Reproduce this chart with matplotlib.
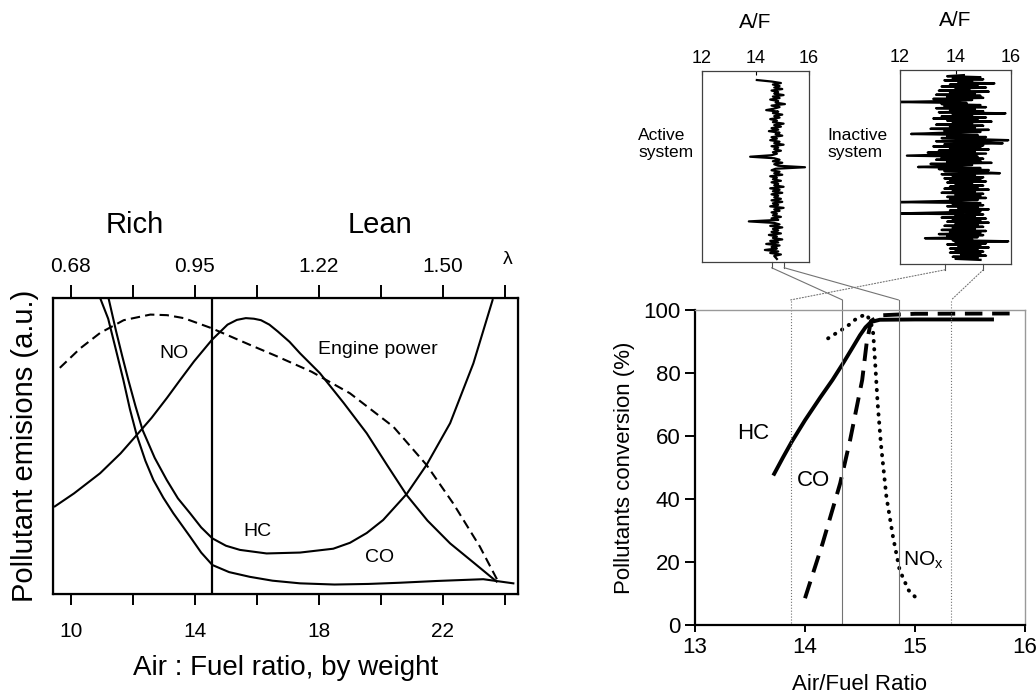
import matplotlib
matplotlib.use("Agg")
import matplotlib.pyplot as plt
from matplotlib.patches import ConnectionPatch

plt.rcParams['font.family'] = ['Liberation Sans', 'DejaVu Sans']

# ---- left panel: emissions vs air/fuel ratio ----
co_x = [10.94, 11.2, 11.45, 11.69, 11.9, 12.12, 12.4, 12.66, 12.98, 13.30, 13.84, 14.2, 14.56, 15.1, 15.77, 16.5, 17.39, 18.5, 19.6, 20.6, 21.8, 23.3, 24.27]
co_y = [100, 93, 82.5, 72.3, 62.5, 53.7, 45.0, 38.5, 32.5, 27.3, 19.4, 14.0, 9.8, 7.4, 5.8, 4.5, 3.6, 3.2, 3.4, 3.8, 4.4, 5.0, 3.6]
hc_x = [11.21, 11.45, 11.65, 11.85, 12.08, 12.31, 12.7, 13.09, 13.45, 13.84, 14.2, 14.56, 15.0, 15.45, 16.31, 17.39, 18.46, 19.0, 19.54, 20.07, 20.83, 21.47, 22.23, 22.98, 23.6]
hc_y = [100, 89, 80.5, 72.3, 63.5, 55.4, 46.0, 38.5, 32.3, 27.3, 22.5, 18.8, 16.3, 14.9, 13.7, 14.0, 15.3, 17.3, 20.6, 25.0, 33.8, 43.6, 57.7, 77.9, 99.3]
no_x = [9.48, 10.1, 10.94, 11.6, 12.12, 12.6, 13.10, 13.52, 13.97, 14.55, 15.05, 15.35, 15.64, 15.9, 16.13, 16.4, 16.67, 17.05, 17.39, 18.03, 18.8, 19.54, 20.2, 20.83, 21.5, 22.23, 23.0, 23.73]
no_y = [29.6, 34.0, 40.8, 47.5, 53.7, 59.5, 66.3, 72.3, 78.6, 85.9, 91.0, 92.6, 93.2, 93.0, 92.5, 91.0, 88.7, 85.2, 81.3, 74.6, 64.5, 54.3, 43.5, 33.4, 24.8, 17.1, 10.5, 4.2]
pw_x = [9.64, 10.3, 10.94, 11.7, 12.56, 13.1, 13.64, 14.51, 15.81, 16.6, 17.76, 19.0, 20.4, 21.47, 22.33, 23.19, 23.78]
pw_y = [76.4, 83.0, 88.2, 92.5, 94.4, 94.2, 93.2, 89.9, 84.0, 80.5, 75.1, 67.8, 56.5, 43.6, 30.6, 16.0, 4.2]
af_ticks = [10, 14, 18, 22]
lambda_labels = ['0.68', '0.95', '1.22', '1.50']
stoich = 14.55

# ---- right panel: conversion efficiency ----
hc_conv_x = [13.72, 13.80, 13.88, 14.0, 14.14, 14.25, 14.35, 14.44, 14.5, 14.55, 14.6, 14.68, 15.0, 15.7]
hc_conv_y = [48.0, 53.2, 58.2, 65.0, 72.3, 77.8, 83.3, 88.5, 92.0, 94.5, 96.2, 96.9, 97.0, 97.0]
co_conv_x = [14.0, 14.16, 14.32, 14.41, 14.52, 14.56, 14.6, 14.68, 15.0, 15.9]
co_conv_y = [8.5, 25.9, 45.0, 58.7, 77.8, 89.4, 96.5, 98.3, 98.8, 98.9]
nox_conv_x = [14.21, 14.3, 14.38, 14.45, 14.5, 14.56, 14.6, 14.62, 14.64, 14.66, 14.69, 14.74, 14.8, 14.86, 14.94, 15.03]
nox_conv_y = [91.0, 93.0, 94.7, 96.8, 97.9, 98.6, 96.0, 92.6, 82.0, 70.5, 57.5, 40.7, 28.0, 17.5, 11.1, 7.9]
window_lines = [13.87, 14.34, 14.85, 15.33]

# ---- A/F traces ----
active_af = [14.05, 14.6, 14.95, 14.65, 14.9, 14.7, 15.0, 14.6, 14.85, 14.7,
             15.05, 14.65, 14.9, 14.55, 14.85, 14.75, 15.1, 14.6, 14.9, 14.7,
             14.4, 14.85, 14.65, 15.0, 14.7, 14.9, 14.55, 14.8, 14.65, 15.05,
             14.7, 14.95, 14.6, 14.85, 14.5, 14.9, 14.75, 15.0, 14.6, 14.8,
             14.55, 14.9, 14.7, 15.05, 14.6, 14.85, 14.7, 14.95, 14.65, 14.8,
             14.6, 13.8, 14.7, 14.9, 14.65, 15.0, 14.7, 14.85, 15.85, 14.75,
             14.6, 14.9, 14.7, 15.0, 14.55, 14.8, 14.65, 14.95, 14.6, 14.85,
             14.7, 15.05, 14.55, 14.9, 14.65, 15.0, 14.6, 14.85, 14.7, 14.95,
             14.6, 15.0, 14.65, 14.85, 14.55, 15.05, 14.7, 14.9, 14.6, 14.8,
             14.65, 14.95, 14.6, 14.85, 13.75, 14.7, 14.9, 14.55, 15.0, 14.65,
             14.85, 14.6, 14.95, 14.5, 14.8, 14.65, 15.0, 14.55, 14.85, 14.4,
             14.9, 14.6, 14.8, 14.35, 14.85, 14.55, 14.95, 14.7, 14.75, 14.8]
inactive_af = [14.3, 13.7, 14.9, 13.9, 15.0, 13.6, 14.6, 14.1, 15.4, 13.8,
               14.8, 13.5, 15.1, 14.0, 14.5, 13.4, 15.2, 13.8, 14.7, 13.3,
               14.9, 13.7, 15.0, 13.2, 14.6, 13.9, 12.0, 14.4, 13.5, 14.9,
               13.6, 15.1, 13.3, 14.7, 13.8, 15.0, 13.4, 15.8, 13.9, 14.6,
               13.5, 15.1, 13.2, 14.8, 13.7, 15.3, 13.9, 14.6, 13.3, 15.0,
               13.8, 14.7, 13.1, 15.2, 13.6, 14.9, 13.4, 12.4, 14.8, 13.7,
               15.1, 13.5, 14.6, 15.9, 13.3, 14.8, 15.7, 13.6, 15.0, 13.2,
               14.9, 13.8, 15.2, 13.4, 14.7, 13.0, 15.1, 13.6, 12.25, 14.8,
               13.5, 15.0, 13.3, 14.9, 13.7, 15.3, 13.1, 14.6, 13.8, 12.65,
               14.9, 13.4, 15.2, 13.6, 14.8, 15.6, 13.5, 14.7, 13.9, 15.0,
               13.6, 14.9, 13.8, 15.1, 13.7, 14.6, 14.0, 15.0, 13.8, 14.8,
               13.6, 15.2, 13.9, 14.7, 13.5, 15.0, 14.0, 14.9, 13.7, 15.1,
               13.8, 14.8, 13.6, 12.0, 14.9, 13.9, 15.0, 13.7, 14.8, 14.1,
               15.2, 13.8, 14.9, 13.6, 12.0, 15.0, 14.0, 14.7, 13.5, 15.1,
               13.9, 14.9, 13.7, 15.2, 14.0, 14.8, 13.6, 15.0, 13.9, 14.7,
               13.5, 15.1, 13.8, 14.9, 13.4, 15.0, 13.7, 14.8, 12.9, 14.6,
               13.9, 15.9, 14.0, 15.1, 13.7, 14.9, 14.1, 15.2, 13.8, 14.8,
               14.0, 15.0, 13.8, 14.9, 14.2, 15.1, 13.9, 14.8, 14.0, 14.9]
active_range = [14.6, 15.07]
inactive_range = [13.62, 15.0]

W, H = 1036, 697
fig = plt.figure(figsize=(W / 100, H / 100), dpi=100)


def px_axes(l, t, r, b):
    return fig.add_axes([l / W, 1 - b / H, (r - l) / W, (b - t) / H])


# ================= left panel =================
ax = px_axes(53, 298, 518, 594)
lw = 1.5
ax.plot(no_x, no_y, color='black', lw=lw, solid_joinstyle='round')
ax.plot(hc_x, hc_y, color='black', lw=lw, solid_joinstyle='round')
ax.plot(co_x, co_y, color='black', lw=lw, solid_joinstyle='round')
ax.plot(pw_x, pw_y, color='black', lw=lw, linestyle=(0, (4.5, 2.5)))
ax.axvline(stoich, color='black', lw=1.6)
ax.set_xlim(9.42, 24.42)
ax.set_ylim(0, 100)
ax.set_yticks([])
ax.set_xticks(af_ticks)
ax.set_xticks([12, 16, 20, 24], minor=True)
ax.tick_params(axis='x', which='both', direction='out', length=8, width=1.4,
               labelsize=15, pad=12)
for s in ax.spines.values():
    s.set_linewidth(1.6)
ax.set_xlabel('Air : Fuel ratio, by weight', fontsize=20, labelpad=10)
ax.set_ylabel('Pollutant emisions (a.u.)', fontsize=21, labelpad=10)

top = ax.twiny()
top.set_xlim(ax.get_xlim())
top.set_xticks(af_ticks)
top.set_xticklabels(lambda_labels)
top.set_xticks([12, 16, 20, 24], minor=True)
top.tick_params(axis='x', which='both', direction='out', length=9.5, width=1.4,
                labelsize=15, pad=6)
top.text(24.1, 1.13, 'λ', transform=top.get_xaxis_transform(), fontsize=14,
         ha='center', va='center')
top.text(12.06, 1.247, 'Rich', transform=top.get_xaxis_transform(), fontsize=21,
         ha='center', va='center')
top.text(19.97, 1.247, 'Lean', transform=top.get_xaxis_transform(), fontsize=21,
         ha='center', va='center')

ax.text(13.32, 81.4, 'NO', fontsize=14, ha='center', va='center')
ax.text(19.9, 82.5, 'Engine power', fontsize=14, ha='center', va='center')
ax.text(16.02, 21.2, 'HC', fontsize=14, ha='center', va='center')
ax.text(19.97, 12.2, 'CO', fontsize=14, ha='center', va='center')

# ================= right panel =================
ar = px_axes(695, 310, 1025, 625)
ar.plot(hc_conv_x, hc_conv_y, color='black', lw=2.8, solid_joinstyle='round')
ar.plot(co_conv_x, co_conv_y, color='black', lw=2.8, linestyle=(0, (4.5, 2.5)))
ar.plot(nox_conv_x, nox_conv_y, color='black', lw=2.8, linestyle=(0, (0.1, 2.0)),
        dash_capstyle='round')
for i, xv in enumerate(window_lines):
    ls = ':' if i in (0, 3) else '-'
    ar.plot([xv, xv], [0.5, 103.2], color='0.45', lw=0.8, linestyle=ls, clip_on=False)
ar.set_xlim(13, 16)
ar.set_ylim(0, 100)
ar.set_xticks([13, 14, 15, 16])
ar.set_yticks([0, 20, 40, 60, 80, 100])
ar.tick_params(axis='both', direction='out', width=1.4, labelsize=16)
ar.tick_params(axis='x', length=5)
ar.tick_params(axis='y', length=7)
ar.spines['left'].set_linewidth(1.6)
ar.spines['bottom'].set_linewidth(1.6)
for side in ('top', 'right'):
    ar.spines[side].set_color('0.6')
    ar.spines[side].set_linewidth(1.0)
ar.set_xlabel('Air/Fuel Ratio', fontsize=16, labelpad=12)
ar.set_ylabel('Pollutants conversion (%)', fontsize=16, labelpad=6)
ar.text(13.53, 60.8, 'HC', fontsize=16, ha='center', va='center')
ar.text(14.08, 46, 'CO', fontsize=16, ha='center', va='center')
ar.text(14.89, 20.6, 'NO$_\\mathregular{x}$', fontsize=15, ha='left', va='center')

# ================= A/F insets =================
insets = [
    (px_axes(702, 71, 809, 262), active_af, active_range, -6, 121, 'Active\nsystem', 638, '-', 1.6),
    (px_axes(900, 70, 1011, 264), inactive_af, inactive_range, -5, 183, 'Inactive\nsystem', 827, ':', 1.7),
]
for k, (ai, series, rng, ytop, ybot, lab, lab_x, cls, tlw) in enumerate(insets):
    ai.plot(series, list(range(len(series))), color='black', lw=tlw)
    ai.set_xlim(12, 16)
    ai.set_ylim(ybot, ytop)
    ai.set_yticks([])
    ai.set_xticks([12, 14, 16])
    ai.xaxis.set_ticks_position('top')
    ai.tick_params(axis='x', direction='in', length=3, width=0.8, labelsize=13, pad=3)
    for s in ai.spines.values():
        s.set_linewidth(0.9)
        s.set_color('0.25')
    ai.text(0.5, 1.255, 'A/F', transform=ai.transAxes, fontsize=15,
            ha='center', va='center')
    fig.text(lab_x / W, 1 - 144 / H, lab, fontsize=12.5, ha='left', va='center',
             linespacing=1.1)
    ext = (ybot - ytop) * 0.03
    for xv, xm in zip(rng, window_lines[1:3] if k == 0 else window_lines[0::3]):
        ai.plot([xv, xv], [ybot, ybot + ext], color='0.3', lw=0.8, clip_on=False)
        con = ConnectionPatch(xyA=(xv, ybot + ext), coordsA=ai.transData,
                              xyB=(xm, 103.2), coordsB=ar.transData,
                              color='0.45', lw=0.8, linestyle=cls)
        fig.add_artist(con)

fig.savefig('out.png', dpi=100)
